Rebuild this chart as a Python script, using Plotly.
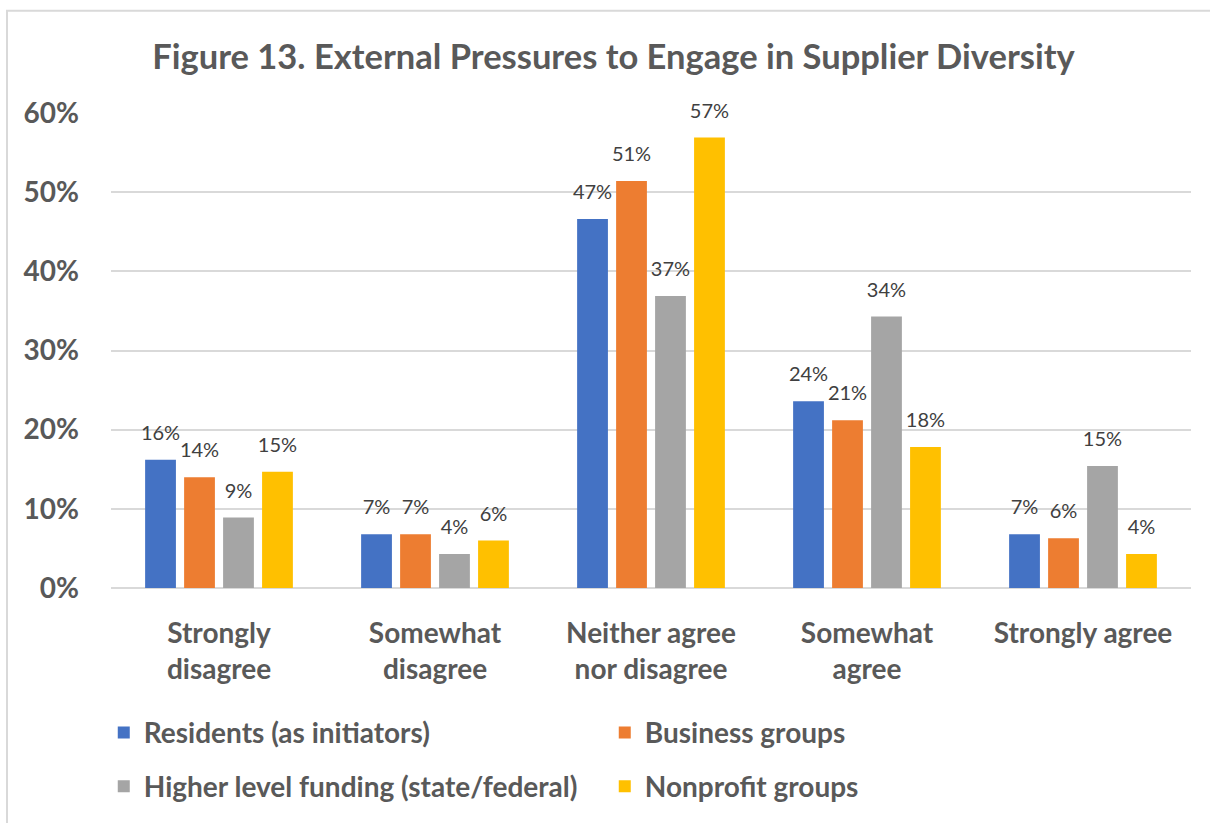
import plotly.graph_objects as go

categories = ["Strongly<br>disagree", "Somewhat<br>disagree", "Neither agree<br>nor disagree",
              "Somewhat<br>agree", "Strongly agree"]
series_names = ["Residents (as initiators)", "Business groups",
                "Higher level funding (state/federal)", "Nonprofit groups"]
residents = [0.162, 0.068, 0.466, 0.236, 0.068]
business = [0.140, 0.068, 0.514, 0.212, 0.063]
higher_level = [0.089, 0.043, 0.369, 0.343, 0.154]
nonprofit = [0.147, 0.060, 0.569, 0.178, 0.043]
y_ticks = [0, 0.1, 0.2, 0.3, 0.4, 0.5, 0.6]
y_tick_labels = ["0%", "10%", "20%", "30%", "40%", "50%", "60%"]

series_values = [residents, business, higher_level, nonprofit]
colors = ["#4472C4", "#ED7D31", "#A5A5A5", "#FFC000"]
legend_refs = ["legend", "legend", "legend2", "legend2"]

FONT = "Lato"
GRAY = "#595959"
BARGAP = 0.278

fig = go.Figure()
for name, vals, col, lg in zip(series_names, series_values, colors, legend_refs):
    fig.add_trace(go.Bar(
        x=categories, y=vals, name=name, marker=dict(color=col, line=dict(width=0)),
        legend=lg, hoverinfo="skip"))
for name, vals in zip(series_names, series_values):
    fig.add_trace(go.Scatter(
        x=categories, y=vals, mode="markers+text", name=name + " labels",
        marker=dict(size=22, opacity=0), texttemplate="%{y:.0%}",
        textposition="top center", textfont=dict(family=FONT, size=20, color="#404040"),
        showlegend=False, hoverinfo="skip", cliponaxis=False))

legend_font = dict(family=FONT, size=28, color=GRAY, weight="bold")

fig.update_layout(
    width=1210, height=823,
    margin=dict(l=111, r=19, t=113, b=232),
    paper_bgcolor="white", plot_bgcolor="white",
    barmode="group", bargap=BARGAP, bargroupgap=0.21,
    scattermode="group", scattergap=BARGAP,
    font=dict(family=FONT, color=GRAY),
    title=dict(text="<b>Figure 13. External Pressures to Engage in Supplier Diversity</b>",
               x=0.507, xanchor="center", y=1 - 57 / 823, yanchor="middle",
               font=dict(family=FONT, size=34.5, color=GRAY)),
    xaxis=dict(showgrid=False, showline=False, zeroline=False, ticks="",
               tickfont=dict(family=FONT, size=28, color=GRAY, weight="bold"),
               ticklabelstandoff=26),
    yaxis=dict(range=[0, 0.6], tickvals=y_ticks, ticktext=y_tick_labels,
               showgrid=True, gridcolor="#D9D9D9", gridwidth=2, zeroline=True,
               zerolinecolor="#D9D9D9", zerolinewidth=2, showline=False, ticks="",
               tickfont=dict(family=FONT, size=28, color=GRAY, weight="bold"),
               ticklabelstandoff=31),
    legend=dict(orientation="h", x=-0.0067, xanchor="left", y=-0.305, yanchor="middle",
                entrywidth=456, font=legend_font,
                bgcolor="rgba(0,0,0,0)", traceorder="normal"),
    legend2=dict(orientation="h", x=-0.0067, xanchor="left", y=-0.418, yanchor="middle",
                 entrywidth=456, font=legend_font,
                 bgcolor="rgba(0,0,0,0)", traceorder="normal"),
    showlegend=True,
    shapes=[dict(type="rect", xref="paper", yref="paper",
                 x0=-0.0963, x1=1.06, y0=-0.55, y1=1.2155,
                 line=dict(color="#D9D9D9", width=2), fillcolor="rgba(0,0,0,0)", layer="below")],
)

fig.write_html("out.html")
